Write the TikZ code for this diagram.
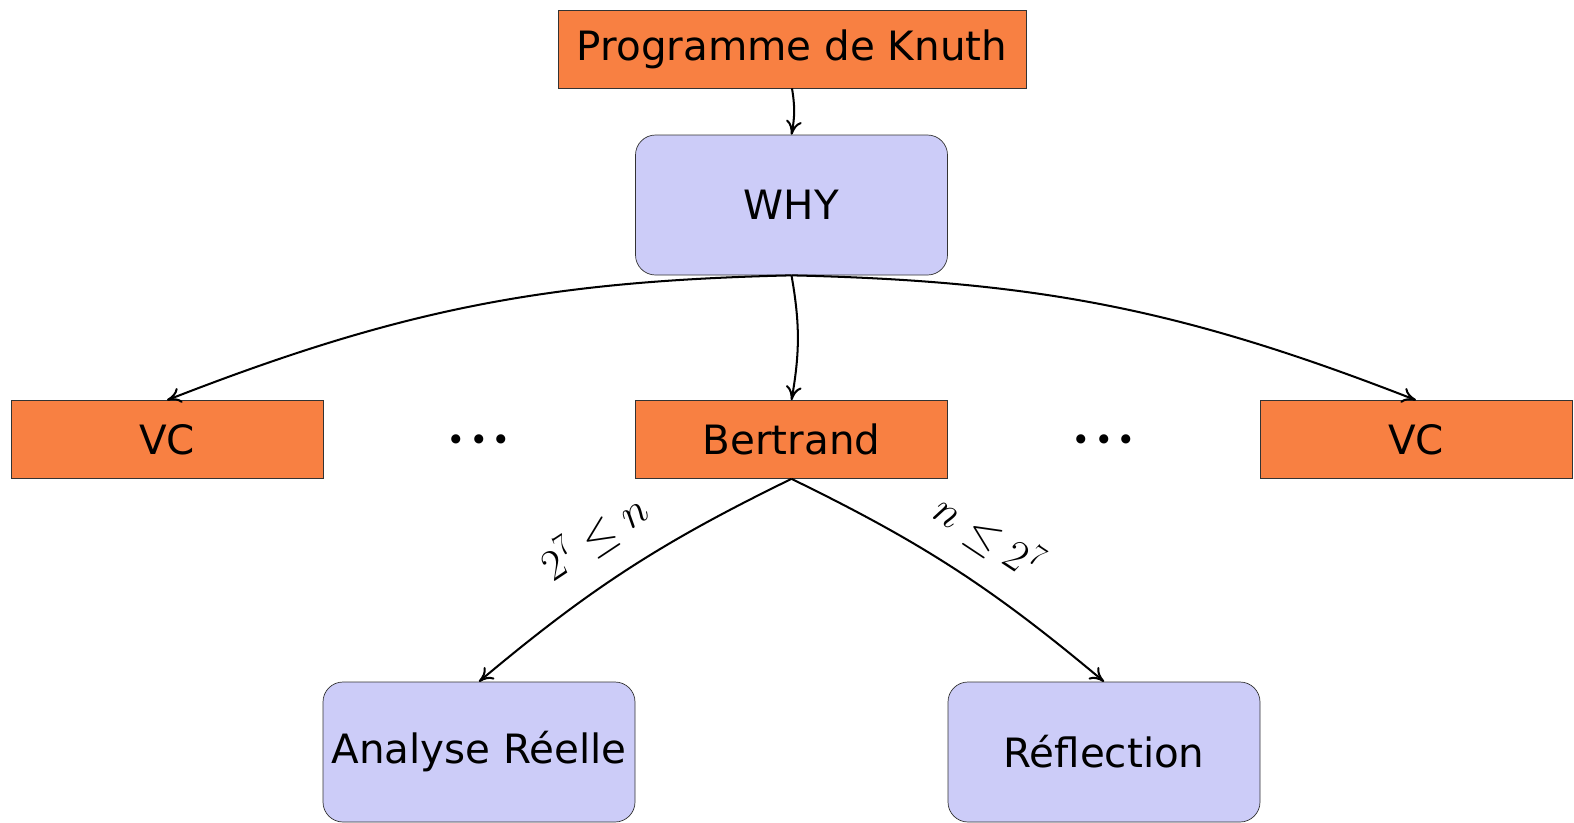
\documentclass[tikz,border=0pt]{standalone}
\usepackage[no-math]{fontspec}
\setmainfont{DejaVu Sans}
\newfontfamily\gapfont{Poppins}
\usetikzlibrary{arrows.meta}
\definecolor{KnuthOrange}{HTML}{F88042}
\definecolor{WhyBlue}{HTML}{CCCCF8}
\newcommand{\boxw}{6.24cm}
\newcommand{\flath}{1.56cm}
\newcommand{\roundh}{2.8cm}
\newcommand{\rowtop}{-0.98}
\newcommand{\rowwhy}{-4.1}
\newcommand{\rowmid}{-8.79}
\newcommand{\rowlow}{-15.04}
\newcommand{\gapdots}{.\kern4pt.\kern4pt.}
\tikzset{
  flatbox/.style={draw=black!80, fill=KnuthOrange, minimum width=\boxw,
    minimum height=\flath, inner sep=0pt},
  roundbox/.style={draw=black!80, fill=WhyBlue, rounded corners=0.4cm,
    minimum width=\boxw, minimum height=\roundh, inner sep=0pt},
  link/.style={-{To[length=8pt,width=9pt]}, line width=1.15pt},
  cond/.style={sloped, above=10pt, font=\fontsize{26}{30}\selectfont},
  gap/.style={font=\gapfont\fontsize{42}{46}\selectfont},
}

\begin{document}
\begin{tikzpicture}[font=\fontsize{23}{27}\selectfont]
  \useasboundingbox (0,0) rectangle (31.48,-16.44);
  % top part
  \node[flatbox, minimum width=9.36cm] (knuth) at (15.84,\rowtop) {Programme de Knuth};
  \node[roundbox] (why) at (15.83,\rowwhy) {WHY};
  % middle row
  \node[flatbox] (vcleft) at (3.34,\rowmid) {VC};
  \node[gap] (dotsleft) at (9.58,\rowmid) {\gapdots};
  \node[flatbox] (bertrand) at (15.83,\rowmid) {Bertrand};
  \node[gap] (dotsright) at (22.08,\rowmid) {\gapdots};
  \node[flatbox] (vcright) at (28.32,\rowmid) {VC};
  % bottom row
  \node[roundbox] (analyse) at (9.58,\rowlow) {Analyse Réelle};
  \node[roundbox] (reflection) at (22.08,\rowlow) {Réflection};

  % links
  \draw[link] (knuth.south) to[bend left=10] (why.north);
  \draw[link] (why.south) to[bend right=10] (vcleft.north);
  \draw[link] (why.south) to[bend left=10] (bertrand.north);
  \draw[link] (why.south) to[bend left=10] (vcright.north);
  \draw[link] (bertrand.south) to[bend right=7]
    node[cond, pos=0.53] {$2^7 \leq n$} (analyse.north);
  \draw[link] (bertrand.south) to[bend left=7]
    node[cond, pos=0.53] {$n \leq 2^7$} (reflection.north);
\end{tikzpicture}
\end{document}
